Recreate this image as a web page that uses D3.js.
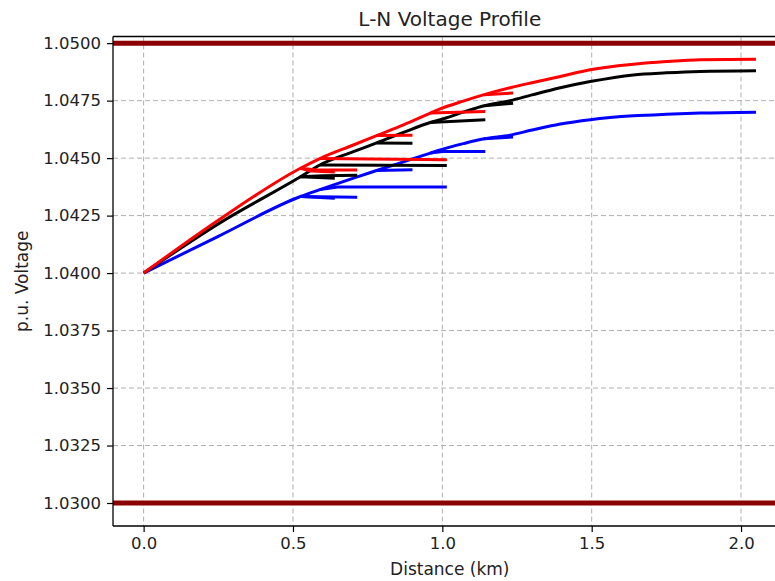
<!DOCTYPE html>
<html><head><meta charset="utf-8">
<script src="https://cdn.jsdelivr.net/npm/d3@7"></script>
<style>html,body{margin:0;padding:0;background:#fff;overflow:hidden}svg{display:block}</style>
</head><body><svg id="c" width="775" height="581"></svg>
<script>
// ---- data ----
const xTicks = [0.0, 0.5, 1.0, 1.5, 2.0];
const yTicks = [1.0300, 1.0325, 1.0350, 1.0375, 1.0400, 1.0425, 1.0450, 1.0475, 1.0500];
const limitLines = [1.0500, 1.0300];

const mainDist = [0, 0.25, 0.525, 0.59, 0.70, 0.78, 0.87, 0.96, 0.993, 1.07, 1.14, 1.227, 1.30, 1.395, 1.495, 1.639, 1.75, 1.863, 2.05];
const mainRed   = [1.0400, 1.04230, 1.04456, 1.04498, 1.04556, 1.04598, 1.04645, 1.04696, 1.04714, 1.04748, 1.04776, 1.04806, 1.04828, 1.04855, 1.04884, 1.04908, 1.04920, 1.04928, 1.04930];
const mainBlack = [1.0400, 1.04214, 1.04419, 1.04470, 1.04527, 1.04566, 1.04612, 1.04655, 1.04667, 1.04700, 1.04728, 1.04750, 1.04775, 1.04806, 1.04833, 1.04862, 1.04871, 1.04877, 1.04880];
const mainBlue  = [1.0400, 1.04160, 1.04333, 1.04363, 1.04412, 1.04446, 1.04484, 1.04522, 1.04536, 1.04563, 1.04584, 1.04600, 1.04622, 1.04648, 1.04667, 1.04684, 1.04691, 1.04696, 1.04700];

// laterals: [[dist, voltage], ...]
const lateralsRed = [
  [[0.525, 1.04456], [0.56, 1.04444], [0.64, 1.04440]],
  [[0.525, 1.04456], [0.58, 1.04448], [0.715, 1.04448]],
  [[0.59, 1.04498], [1.015, 1.04493]],
  [[0.78, 1.04598], [0.90, 1.04600]],
  [[0.96, 1.04696], [1.144, 1.04703]],
  [[1.14, 1.04776], [1.237, 1.04783]]
];
const lateralsBlack = [
  [[0.525, 1.04419], [0.64, 1.04413]],
  [[0.525, 1.04419], [0.60, 1.04423], [0.715, 1.04425]],
  [[0.59, 1.04470], [1.015, 1.04468]],
  [[0.78, 1.04566], [0.90, 1.04565]],
  [[0.96, 1.04655], [1.144, 1.04667]],
  [[1.14, 1.04728], [1.237, 1.04739]]
];
const lateralsBlue = [
  [[0.525, 1.04333], [0.64, 1.04325]],
  [[0.525, 1.04333], [0.715, 1.04330]],
  [[0.59, 1.04363], [0.65, 1.04374], [1.015, 1.04374]],
  [[0.78, 1.04446], [0.90, 1.04449]],
  [[0.96, 1.04522], [1.0, 1.04529], [1.144, 1.04529]],
  [[1.14, 1.04584], [1.237, 1.04592]]
];

// ---- layout ----
const L = 113, T = 36.5, R = 786.6, B = 526;
const svg = d3.select("#c");
const x = d3.scaleLinear().domain([-0.1025, 2.1525]).range([L, R]);
const y = d3.scaleLinear().domain([1.0290, 1.05029]).range([B, T]);
const font = "DejaVu Sans, sans-serif";

svg.append("defs").append("clipPath").attr("id","clip")
  .append("rect").attr("x", L).attr("y", T).attr("width", R - L).attr("height", B - T);

// grid
const g = svg.append("g");
g.selectAll(".gx").data(xTicks).join("line")
  .attr("x1", d => x(d)).attr("x2", d => x(d)).attr("y1", T).attr("y2", B)
  .attr("stroke", "#b0b0b0").attr("stroke-width", 1).attr("stroke-dasharray", "5,3");
g.selectAll(".gy").data(yTicks).join("line")
  .attr("x1", L).attr("x2", R).attr("y1", d => y(d)).attr("y2", d => y(d))
  .attr("stroke", "#b0b0b0").attr("stroke-width", 1).attr("stroke-dasharray", "5,3");

const plot = svg.append("g").attr("clip-path", "url(#clip)");
const line = d3.line().x(d => x(d[0])).y(d => y(d[1]));
const smooth = d3.line().x(d => x(d[0])).y(d => y(d[1])).curve(d3.curveMonotoneX);

// limit lines
plot.selectAll(".lim").data(limitLines).join("line")
  .attr("x1", L).attr("x2", R).attr("y1", d => y(d)).attr("y2", d => y(d))
  .attr("stroke", "#8b0000").attr("stroke-width", 5);

function drawPhase(mainV, laterals, color) {
  const gp = plot.append("g");
  const mainPts = mainDist.map((d, i) => [d, mainV[i]]);
  gp.append("path").datum(mainPts).attr("d", smooth).attr("fill", "none").attr("stroke", color)
    .attr("stroke-width", 3).attr("stroke-linejoin", "round");
  gp.selectAll(".lat").data(laterals).join("path")
    .attr("d", line).attr("fill", "none").attr("stroke", color)
    .attr("stroke-width", 3).attr("stroke-linejoin", "round").attr("stroke-linecap", "butt");
}
drawPhase(mainBlue, lateralsBlue, "#0000ff");
drawPhase(mainBlack, lateralsBlack, "#000000");
drawPhase(mainRed, lateralsRed, "#ff0000");

// axes
const xAxis = d3.axisBottom(x).tickValues(xTicks).tickFormat(d3.format(".1f")).tickSize(6).tickPadding(5);
const yAxis = d3.axisLeft(y).tickValues(yTicks).tickFormat(d3.format(".4f")).tickSize(6).tickPadding(6);
const gx = svg.append("g").attr("transform", `translate(0,${B})`).call(xAxis);
const gy = svg.append("g").attr("transform", `translate(${L},0)`).call(yAxis);
[gx, gy].forEach(a => {
  a.select(".domain").remove();
  a.selectAll("line").attr("stroke", "#000").attr("stroke-width", 1.2);
  a.selectAll("text").attr("font-family", font).attr("font-size", 16.5).attr("fill", "#222");
});

// spines
svg.append("line").attr("x1", L).attr("x2", L).attr("y1", T).attr("y2", B).attr("stroke", "#000").attr("stroke-width", 1.3);
svg.append("line").attr("x1", L).attr("x2", R).attr("y1", B).attr("y2", B).attr("stroke", "#000").attr("stroke-width", 1.3);
svg.append("line").attr("x1", L).attr("x2", R).attr("y1", T).attr("y2", T).attr("stroke", "#000").attr("stroke-width", 1.3);
svg.append("line").attr("x1", R).attr("x2", R).attr("y1", T).attr("y2", B).attr("stroke", "#000").attr("stroke-width", 1.3);

// titles
svg.append("text").attr("x", (L + R) / 2).attr("y", 26).attr("text-anchor", "middle")
  .attr("font-family", font).attr("font-size", 20).attr("fill", "#222").text("L-N Voltage Profile");
svg.append("text").attr("x", (L + R) / 2).attr("y", 575).attr("text-anchor", "middle")
  .attr("font-family", font).attr("font-size", 17).attr("fill", "#222").text("Distance (km)");
svg.append("text").attr("transform", `translate(28,${(T + B) / 2}) rotate(-90)`).attr("text-anchor", "middle")
  .attr("font-family", font).attr("font-size", 17).attr("fill", "#222").text("p.u. Voltage");
</script></body></html>
